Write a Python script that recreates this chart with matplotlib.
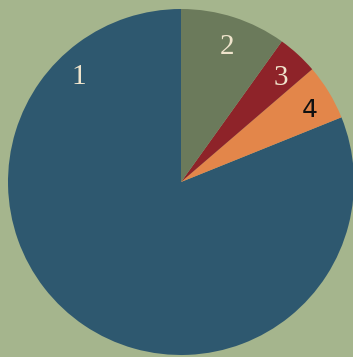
import matplotlib
matplotlib.use("Agg")
import matplotlib.pyplot as plt
import numpy as np

labels = ["1", "4", "3", "2"]
values = [81.1, 5.2, 3.8, 9.9]
colors = ["#2e586f", "#e3864a", "#8e2329", "#6b7a5b"]
label_colors = ["#efe4cc", "#111111", "#efe4cc", "#efe4cc"]
label_fonts = ["Liberation Serif", "DejaVu Sans", "Liberation Serif", "Liberation Serif"]
label_sizes = [21, 18, 21, 21]

bg = "#a5b58d"
fig = plt.figure(figsize=(3.53, 3.57), dpi=100, facecolor=bg)
ax = fig.add_axes([8/353, 2/357, 346/353, 346/357])
ax.set_facecolor(bg)
wedges, texts = ax.pie(values, labels=labels, colors=colors, startangle=90,
                       counterclock=True, labeldistance=0.84,
                       wedgeprops=dict(linewidth=0),
                       textprops=dict(ha="center", va="center"))
for t, c, f, s in zip(texts, label_colors, label_fonts, label_sizes):
    t.set_color(c)
    t.set_fontfamily(f)
    t.set_fontsize(s)
    x, y = t.get_position()
    t.set_position((x + 0.01, y - 0.018))
# label of slice 1 sits near upper left
ang = np.deg2rad(133.5)
texts[0].set_position((0.87 * np.cos(ang) + 0.01, 0.86 * np.sin(ang) - 0.015))
x4, y4 = texts[1].get_position()
texts[1].set_position((x4 + 0.015, y4 - 0.005))
ax.set_xlim(-1, 1)
ax.set_ylim(-1, 1)
ax.axis("off")
fig.savefig("out.png", dpi=100, facecolor=bg)
